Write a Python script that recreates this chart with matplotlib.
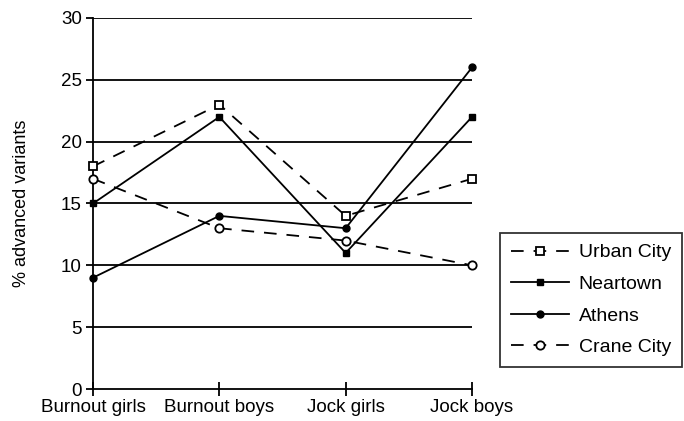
import matplotlib
matplotlib.use("Agg")
import matplotlib.pyplot as plt

categories = ["Burnout girls", "Burnout boys", "Jock girls", "Jock boys"]
urban_city = [18, 23, 14, 17]
neartown = [15, 22, 11, 22]
athens = [9, 14, 13, 26]
crane_city = [17, 13, 12, 10]
y_ticks = [0, 5, 10, 15, 20, 25, 30]

plt.rcParams['font.family'] = ['Liberation Sans', 'DejaVu Sans']

W, H = 684, 421
fig = plt.figure(figsize=(W/100, H/100), dpi=100)
ax = fig.add_axes([93/W, 1-389/H, (472-93)/W, (389-18)/H])

x = list(range(len(categories)))
for yv in y_ticks[1:]:
    ax.axhline(yv, color='black', lw=1.3, zorder=1)

dash = (0, (7, 5.5))
ax.plot(x, urban_city, ls=dash, color='black', lw=1.3, marker='s', ms=6,
        mfc='white', mec='black', mew=1.3, label='Urban City', clip_on=False, zorder=3)
ax.plot(x, neartown, ls='-', color='black', lw=1.3, marker='s', ms=5,
        mfc='black', mec='black', label='Neartown', clip_on=False, zorder=3)
ax.plot(x, athens, ls='-', color='black', lw=1.3, marker='o', ms=5,
        mfc='black', mec='black', label='Athens', clip_on=False, zorder=3)
ax.plot(x, crane_city, ls=dash, color='black', lw=1.3, marker='o', ms=6,
        mfc='white', mec='black', mew=1.3, label='Crane City', clip_on=False, zorder=3)

ax.set_xlim(0, 3)
ax.set_ylim(0, 30)
ax.set_xticks(x)
ax.set_xticklabels(categories, fontsize=13.5)
ax.set_yticks(y_ticks)
ax.set_yticklabels([str(v) for v in y_ticks], fontsize=13.5)
ax.tick_params(axis='x', direction='inout', length=10, width=1.3, pad=2)
ax.tick_params(axis='y', direction='out', length=5, width=1.3, pad=3)
ax.set_ylabel('% advanced variants', fontsize=13, labelpad=22)

for s in ['top', 'right']:
    ax.spines[s].set_visible(False)
for s in ['left', 'bottom']:
    ax.spines[s].set_linewidth(1.3)
    ax.spines[s].set_color('black')

leg = fig.legend(loc='upper left', bbox_to_anchor=(500/W, 1-233/H),
                 bbox_transform=fig.transFigure, fontsize=14, frameon=True,
                 fancybox=False, edgecolor='black', handlelength=3.0,
                 labelspacing=0.72, borderpad=0.55, handletextpad=0.5,
                 borderaxespad=0)
leg.get_frame().set_linewidth(1.3)

fig.savefig('out.png', dpi=100)
